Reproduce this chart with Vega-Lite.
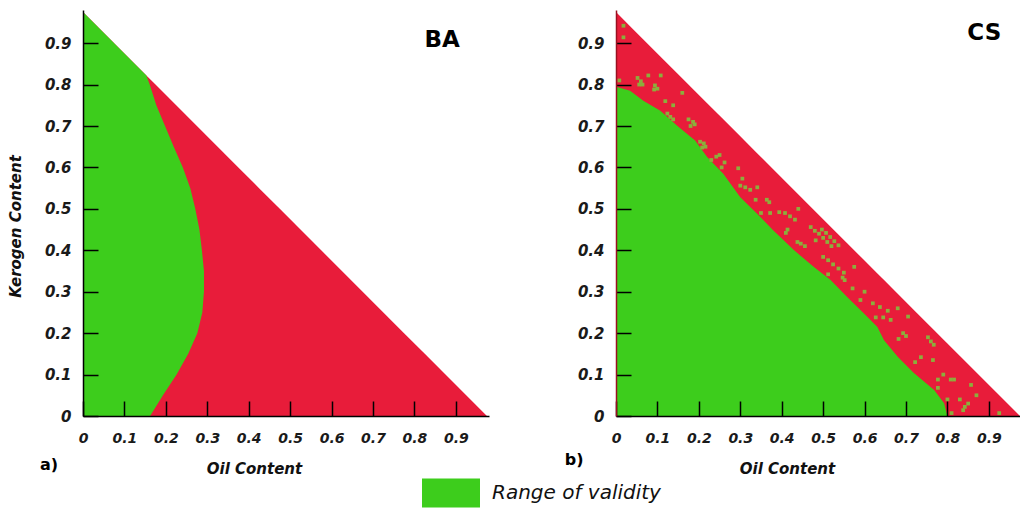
{
  "$schema": "https://vega.github.io/schema/vega-lite/v6.json",
  "background": "white",
  "padding": {"left": 8, "top": 10, "right": 0, "bottom": 0},
  "spacing": 127,
  "bounds": "flush",
  "datasets": {
    "ba": [
      {"y": 0, "g": 0.162, "h": 0.975},
      {"y": 0.05, "g": 0.193, "h": 0.925},
      {"y": 0.1, "g": 0.226, "h": 0.875},
      {"y": 0.15, "g": 0.254, "h": 0.825},
      {"y": 0.2, "g": 0.276, "h": 0.775},
      {"y": 0.25, "g": 0.288, "h": 0.725},
      {"y": 0.3, "g": 0.292, "h": 0.675},
      {"y": 0.35, "g": 0.292, "h": 0.625},
      {"y": 0.4, "g": 0.287, "h": 0.575},
      {"y": 0.45, "g": 0.281, "h": 0.525},
      {"y": 0.5, "g": 0.271, "h": 0.475},
      {"y": 0.55, "g": 0.259, "h": 0.425},
      {"y": 0.6, "g": 0.241, "h": 0.375},
      {"y": 0.65, "g": 0.219, "h": 0.325},
      {"y": 0.7, "g": 0.198, "h": 0.275},
      {"y": 0.75, "g": 0.177, "h": 0.225},
      {"y": 0.8, "g": 0.161, "h": 0.175},
      {"y": 0.822, "g": 0.153, "h": 0.153},
      {"y": 0.975, "g": 0, "h": 0}
    ],
    "cs": [
      {"x": 0, "g": 0.795, "h": 0.975},
      {"x": 0.034, "g": 0.785, "h": 0.941},
      {"x": 0.066, "g": 0.761, "h": 0.909},
      {"x": 0.107, "g": 0.737, "h": 0.868},
      {"x": 0.147, "g": 0.701, "h": 0.828},
      {"x": 0.191, "g": 0.665, "h": 0.784},
      {"x": 0.22, "g": 0.625, "h": 0.755},
      {"x": 0.259, "g": 0.585, "h": 0.716},
      {"x": 0.3, "g": 0.528, "h": 0.675},
      {"x": 0.34, "g": 0.489, "h": 0.635},
      {"x": 0.38, "g": 0.448, "h": 0.595},
      {"x": 0.43, "g": 0.4, "h": 0.545},
      {"x": 0.477, "g": 0.36, "h": 0.498},
      {"x": 0.518, "g": 0.328, "h": 0.457},
      {"x": 0.558, "g": 0.287, "h": 0.417},
      {"x": 0.598, "g": 0.248, "h": 0.377},
      {"x": 0.631, "g": 0.215, "h": 0.344},
      {"x": 0.647, "g": 0.183, "h": 0.328},
      {"x": 0.68, "g": 0.143, "h": 0.295},
      {"x": 0.719, "g": 0.104, "h": 0.256},
      {"x": 0.768, "g": 0.063, "h": 0.207},
      {"x": 0.792, "g": 0.031, "h": 0.183},
      {"x": 0.8, "g": 0, "h": 0.175},
      {"x": 0.975, "g": 0, "h": 0}
    ],
    "sp": [
      {"x": 0.018, "y": 0.942}, {"x": 0.018, "y": 0.914}, {"x": 0.008, "y": 0.81},
      {"x": 0.052, "y": 0.816}, {"x": 0.06, "y": 0.808}, {"x": 0.064, "y": 0.8}, {"x": 0.056, "y": 0.8},
      {"x": 0.078, "y": 0.822}, {"x": 0.108, "y": 0.822}, {"x": 0.094, "y": 0.798}, {"x": 0.1, "y": 0.79},
      {"x": 0.092, "y": 0.788}, {"x": 0.119, "y": 0.76}, {"x": 0.138, "y": 0.75}, {"x": 0.124, "y": 0.73},
      {"x": 0.131, "y": 0.722}, {"x": 0.138, "y": 0.716}, {"x": 0.175, "y": 0.716}, {"x": 0.186, "y": 0.71},
      {"x": 0.18, "y": 0.7}, {"x": 0.19, "y": 0.704}, {"x": 0.203, "y": 0.662}, {"x": 0.212, "y": 0.658},
      {"x": 0.208, "y": 0.648}, {"x": 0.216, "y": 0.65}, {"x": 0.242, "y": 0.626}, {"x": 0.23, "y": 0.618},
      {"x": 0.25, "y": 0.63}, {"x": 0.262, "y": 0.612}, {"x": 0.255, "y": 0.6}, {"x": 0.295, "y": 0.598},
      {"x": 0.305, "y": 0.573}, {"x": 0.341, "y": 0.552}, {"x": 0.3, "y": 0.556}, {"x": 0.312, "y": 0.552},
      {"x": 0.324, "y": 0.546}, {"x": 0.337, "y": 0.522}, {"x": 0.364, "y": 0.522}, {"x": 0.37, "y": 0.516},
      {"x": 0.35, "y": 0.49}, {"x": 0.372, "y": 0.49}, {"x": 0.394, "y": 0.492}, {"x": 0.408, "y": 0.49},
      {"x": 0.42, "y": 0.482}, {"x": 0.432, "y": 0.474}, {"x": 0.414, "y": 0.45}, {"x": 0.41, "y": 0.442},
      {"x": 0.438, "y": 0.42}, {"x": 0.446, "y": 0.416}, {"x": 0.456, "y": 0.41}, {"x": 0.47, "y": 0.456},
      {"x": 0.48, "y": 0.447}, {"x": 0.49, "y": 0.44}, {"x": 0.5, "y": 0.43}, {"x": 0.51, "y": 0.42},
      {"x": 0.52, "y": 0.41}, {"x": 0.497, "y": 0.45}, {"x": 0.507, "y": 0.442}, {"x": 0.517, "y": 0.432},
      {"x": 0.527, "y": 0.422}, {"x": 0.537, "y": 0.412}, {"x": 0.482, "y": 0.424}, {"x": 0.5, "y": 0.384},
      {"x": 0.512, "y": 0.376}, {"x": 0.524, "y": 0.366}, {"x": 0.537, "y": 0.356}, {"x": 0.55, "y": 0.346},
      {"x": 0.512, "y": 0.342}, {"x": 0.547, "y": 0.334}, {"x": 0.552, "y": 0.328}, {"x": 0.571, "y": 0.308},
      {"x": 0.59, "y": 0.28}, {"x": 0.62, "y": 0.272}, {"x": 0.637, "y": 0.263}, {"x": 0.656, "y": 0.254},
      {"x": 0.6, "y": 0.3}, {"x": 0.627, "y": 0.238}, {"x": 0.645, "y": 0.238}, {"x": 0.663, "y": 0.232},
      {"x": 0.693, "y": 0.2}, {"x": 0.7, "y": 0.193}, {"x": 0.682, "y": 0.186}, {"x": 0.753, "y": 0.19},
      {"x": 0.76, "y": 0.18}, {"x": 0.767, "y": 0.172}, {"x": 0.722, "y": 0.13}, {"x": 0.736, "y": 0.142},
      {"x": 0.765, "y": 0.135}, {"x": 0.777, "y": 0.088}, {"x": 0.808, "y": 0.088}, {"x": 0.816, "y": 0.088},
      {"x": 0.777, "y": 0.068}, {"x": 0.8, "y": 0.04}, {"x": 0.842, "y": 0.022}, {"x": 0.85, "y": 0.03},
      {"x": 0.838, "y": 0.014}, {"x": 0.83, "y": 0.04}, {"x": 0.857, "y": 0.075}, {"x": 0.925, "y": 0.007},
      {"x": 0.81, "y": 0.007}, {"x": 0.79, "y": 0.1}, {"x": 0.87, "y": 0.05}, {"x": 0.705, "y": 0.24},
      {"x": 0.68, "y": 0.26}, {"x": 0.575, "y": 0.36}, {"x": 0.44, "y": 0.5}, {"x": 0.16, "y": 0.78}
    ]
  },
  "config": {
    "view": {"stroke": null},
    "axis": {
      "grid": false,
      "domainColor": "#000000",
      "domainWidth": 1.5,
      "tickColor": "#000000",
      "tickWidth": 1.5,
      "tickSize": -15,
      "labelFont": "DejaVu Sans",
      "labelFontWeight": "bold",
      "labelFontStyle": "italic",
      "labelColor": "#1a1a1a",
      "labelFlush": false,
      "labelOverlap": false,
      "titleFont": "DejaVu Sans",
      "titleFontWeight": "bold",
      "titleFontStyle": "italic",
      "titleFontSize": 15,
      "titleColor": "#111111"
    },
    "legend": {
      "orient": "none",
      "legendX": 339,
      "legendY": 454,
      "padding": 0,
      "labelFont": "DejaVu Sans",
      "labelFontStyle": "italic",
      "labelFontSize": 20,
      "labelLimit": 400,
      "labelColor": "#111111",
      "labelOffset": 12,
      "symbolType": "M-1,-0.5H1V0.5H-1Z",
      "symbolSize": 3364,
      "symbolStrokeWidth": 0,
      "symbolOpacity": 1
    }
  },
  "hconcat": [
    {
      "width": 406,
      "height": 406,
      "layer": [
        {
          "data": {"name": "ba"},
          "mark": {"type": "area", "orient": "horizontal", "color": "#e81c3a", "opacity": 1},
          "encoding": {
            "y": {"field": "y", "type": "quantitative",
                  "scale": {"domain": [0, 0.98], "nice": false, "zero": true},
                  "axis": {"values": [0, 0.1, 0.2, 0.3, 0.4, 0.5, 0.6, 0.7, 0.8, 0.9], "format": "~g", "title": "Kerogen Content",
                           "zindex": 2, "labelFontSize": 15, "labelPadding": 27, "titleX": -60, "titleY": 216, "titleAngle": -90,
                           "titleAlign": "center", "titleBaseline": "bottom"}},
            "x": {"field": "h", "type": "quantitative", "stack": null,
                  "scale": {"domain": [0, 0.98], "nice": false, "zero": true},
                  "axis": {"values": [0, 0.1, 0.2, 0.3, 0.4, 0.5, 0.6, 0.7, 0.8, 0.9], "format": "~g", "title": "Oil Content",
                           "zindex": 2, "labelFontSize": 14, "labelPadding": 30, "titleX": 171, "titleY": 45,
                           "titleAlign": "center", "titleBaseline": "top"}}
          }
        },
        {
          "data": {"name": "ba"},
          "mark": {"type": "area", "orient": "horizontal", "opacity": 1},
          "encoding": {
            "y": {"field": "y", "type": "quantitative"},
            "x": {"field": "g", "type": "quantitative", "stack": null},
            "color": {"datum": "Range of validity", "type": "nominal",
                      "scale": {"domain": ["Range of validity"], "range": ["#3dcd1c"]},
                      "legend": {"title": null}}
          }
        },
        {
          "data": {"values": [{}]},
          "mark": {"type": "text", "font": "DejaVu Sans", "fontWeight": "bold", "fontSize": 23, "align": "center", "baseline": "middle", "color": "#000000"},
          "encoding": {
            "x": {"datum": 0.867, "type": "quantitative"},
            "y": {"datum": 0.908, "type": "quantitative"},
            "text": {"value": "BA"}
          }
        },
        {
          "data": {"values": [{}]},
          "mark": {"type": "text", "font": "DejaVu Sans", "fontWeight": "bold", "fontSize": 16, "align": "center", "baseline": "middle", "color": "#000000"},
          "encoding": {
            "x": {"datum": -0.082, "type": "quantitative"},
            "y": {"datum": -0.118, "type": "quantitative"},
            "text": {"value": "a)"}
          }
        }
      ]
    },
    {
      "width": 406,
      "height": 406,
      "layer": [
        {
          "data": {"name": "cs"},
          "mark": {"type": "area", "color": "#e81c3a", "opacity": 1},
          "encoding": {
            "x": {"field": "x", "type": "quantitative",
                  "scale": {"domain": [0, 0.98], "nice": false, "zero": true},
                  "axis": {"values": [0, 0.1, 0.2, 0.3, 0.4, 0.5, 0.6, 0.7, 0.8, 0.9], "format": "~g", "title": "Oil Content",
                           "zindex": 2, "labelFontSize": 14, "labelPadding": 30, "titleX": 171, "titleY": 45,
                           "titleAlign": "center", "titleBaseline": "top"}},
            "y": {"field": "h", "type": "quantitative", "stack": null,
                  "scale": {"domain": [0, 0.98], "nice": false, "zero": true},
                  "axis": {"values": [0, 0.1, 0.2, 0.3, 0.4, 0.5, 0.6, 0.7, 0.8, 0.9], "format": "~g", "title": "",
                           "zindex": 2, "domainColor": "#9a1020", "labelFontSize": 15, "labelPadding": 27}}
          }
        },
        {
          "data": {"name": "cs"},
          "mark": {"type": "area", "opacity": 1},
          "encoding": {
            "x": {"field": "x", "type": "quantitative"},
            "y": {"field": "g", "type": "quantitative", "stack": null},
            "color": {"datum": "Range of validity", "type": "nominal",
                      "scale": {"domain": ["Range of validity"], "range": ["#3dcd1c"]},
                      "legend": {"title": null}}
          }
        },
        {
          "data": {"name": "sp"},
          "mark": {"type": "square", "size": 14, "color": "#8cae3c", "opacity": 1, "filled": true},
          "encoding": {
            "x": {"field": "x", "type": "quantitative"},
            "y": {"field": "y", "type": "quantitative"}
          }
        },
        {
          "data": {"values": [{}]},
          "mark": {"type": "text", "font": "DejaVu Sans", "fontWeight": "bold", "fontSize": 23, "align": "center", "baseline": "middle", "color": "#000000"},
          "encoding": {
            "x": {"datum": 0.889, "type": "quantitative"},
            "y": {"datum": 0.925, "type": "quantitative"},
            "text": {"value": "CS"}
          }
        },
        {
          "data": {"values": [{}]},
          "mark": {"type": "text", "font": "DejaVu Sans", "fontWeight": "bold", "fontSize": 16, "align": "center", "baseline": "middle", "color": "#000000"},
          "encoding": {
            "x": {"datum": -0.101, "type": "quantitative"},
            "y": {"datum": -0.106, "type": "quantitative"},
            "text": {"value": "b)"}
          }
        }
      ]
    }
  ]
}
